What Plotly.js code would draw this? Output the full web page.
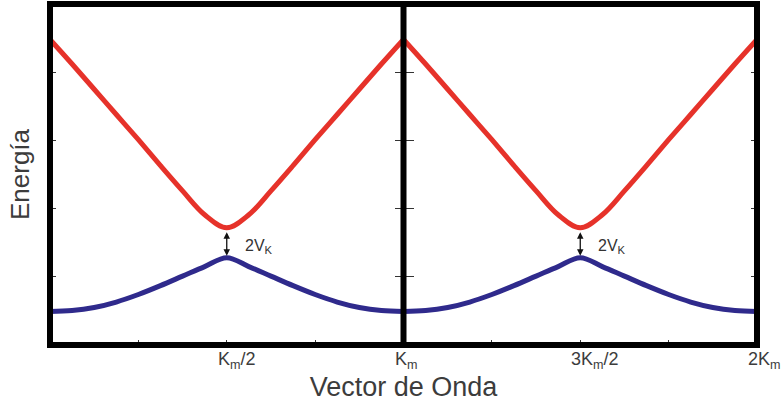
<!DOCTYPE html>
<html>
<head>
<meta charset="utf-8">
<script src="https://cdn.plot.ly/plotly-3.0.1.min.js"></script>
<style>html,body{margin:0;padding:0;background:#fff;}#chart{width:783px;height:407px;}</style>
</head>
<body>
<div id="chart"></div>
<script>
// Wave vector in units of K_m
const waveVector = [0,0.0625,0.125,0.1875,0.25,0.3125,0.375,0.4375,0.5,0.5625,0.625,0.6875,0.75,0.8125,0.875,0.9375,1,
  1.0625,1.125,1.1875,1.25,1.3125,1.375,1.4375,1.5,1.5625,1.625,1.6875,1.75,1.8125,1.875,1.9375,2];
// Upper band (red)
const upperBand = [4.48,4.12,3.75,3.38,3.01,2.63,2.26,1.91,1.72,1.91,2.26,2.63,3.01,3.38,3.75,4.12,4.48,
  4.12,3.75,3.38,3.01,2.63,2.26,1.91,1.72,1.91,2.26,2.63,3.01,3.38,3.75,4.12,4.48];
// Lower band (blue)
const lowerBand = [0.49,0.505,0.55,0.63,0.74,0.87,1.01,1.15,1.28,1.15,1.01,0.87,0.74,0.63,0.55,0.505,0.49,
  0.505,0.55,0.63,0.74,0.87,1.01,1.15,1.28,1.15,1.01,0.87,0.74,0.63,0.55,0.505,0.49];
const xTickVals = [0.25,0.5,0.75,1,1.25,1.5,1.75,2];
const xLabelVals = [0.5, 1, 1.5, 2];
const xLabelText = ['K<sub>m</sub>/2', 'K<sub>m</sub>', '3K<sub>m</sub>/2', '2K<sub>m</sub>'];
const yTickVals = [1,2,3,4];
const gapX = [0.5, 1.5];
const gapIdx = [8, 24];
const zoneSplit = 16; // index of x = K_m

const FONT = 'Liberation Sans, Arial, sans-serif';
const TXT = '#3c3c3c';

const traces = [];
[[0, zoneSplit + 1], [zoneSplit, waveVector.length]].forEach(([a, b]) => {
  traces.push({x: waveVector.slice(a, b), y: upperBand.slice(a, b), mode: 'lines',
    line: {color: '#e6322a', width: 5, shape: 'spline', smoothing: 1}, hoverinfo: 'skip'});
  traces.push({x: waveVector.slice(a, b), y: lowerBand.slice(a, b), mode: 'lines',
    line: {color: '#2f2a8c', width: 5, shape: 'spline', smoothing: 1}, hoverinfo: 'skip'});
});
traces.push({x: [], y: [], yaxis: 'y2', hoverinfo: 'skip'});
traces.push({x: [], y: [], yaxis: 'y3', hoverinfo: 'skip'});

const annotations = [];
gapX.forEach((gx, i) => {
  annotations.push({x: gx, y: lowerBand[gapIdx[i]], ax: gx, ay: upperBand[gapIdx[i]], xref: 'x', yref: 'y', axref: 'x', ayref: 'y',
    text: '', showarrow: true, arrowhead: 2, startarrowhead: 2, arrowside: 'end+start', arrowsize: 1, arrowwidth: 1.3, arrowcolor: '#111', standoff: 2, startstandoff: 3});
  annotations.push({x: gx + 0.09, y: (lowerBand[gapIdx[i]] + upperBand[gapIdx[i]]) / 2 - 0.05, xref: 'x', yref: 'y', showarrow: false,
    text: '2V<sub>K</sub>', font: {family: FONT, size: 16, color: '#333'}});
});
xLabelVals.forEach((v, i) => {
  annotations.push({x: v, y: 0, xref: 'x', yref: 'paper', xanchor: 'left', yanchor: 'top', xshift: -10, yshift: -3,
    showarrow: false, text: xLabelText[i], font: {family: FONT, size: 18, color: TXT}, borderpad: 0});
});

const midAxis = (side) => ({range: [0, 5], overlaying: 'y', anchor: 'free', position: 0.5, side: side,
  tickmode: 'array', tickvals: yTickVals, showticklabels: false, ticks: 'outside', ticklen: 9, tickwidth: 1, tickcolor: '#333',
  showgrid: false, zeroline: false, showline: false});

const layout = {
  width: 783, height: 407,
  margin: {l: 50, r: 26, t: 4, b: 62},
  paper_bgcolor: '#fff', plot_bgcolor: '#fff',
  showlegend: false,
  font: {family: FONT, color: TXT},
  xaxis: {range: [0, 2], tickmode: 'array', tickvals: xTickVals, showticklabels: false,
    ticks: 'inside', ticklen: 5, tickwidth: 1, tickcolor: '#333', showgrid: false, zeroline: false, showline: false,
    title: {text: 'Vector de Onda', font: {family: FONT, size: 27, color: TXT}, standoff: 32}},
  yaxis: {range: [0, 5], tickmode: 'array', tickvals: yTickVals, showticklabels: false,
    ticks: 'inside', ticklen: 6, tickwidth: 1, tickcolor: '#333', mirror: 'ticks', showgrid: false, zeroline: false, showline: false,
    title: {text: 'Energía', font: {family: FONT, size: 26, color: TXT}, standoff: 11}},
  yaxis2: midAxis('left'),
  yaxis3: midAxis('right'),
  shapes: [
    {type: 'rect', xref: 'paper', yref: 'paper', x0: 0, x1: 1, y0: 0, y1: 1, line: {color: '#000', width: 6}},
    {type: 'line', xref: 'x', yref: 'paper', x0: 1, x1: 1, y0: 0, y1: 1, line: {color: '#000', width: 6}}
  ],
  annotations: annotations
};

Plotly.newPlot('chart', traces, layout, {displayModeBar: false, staticPlot: true});
</script>
</body>
</html>
